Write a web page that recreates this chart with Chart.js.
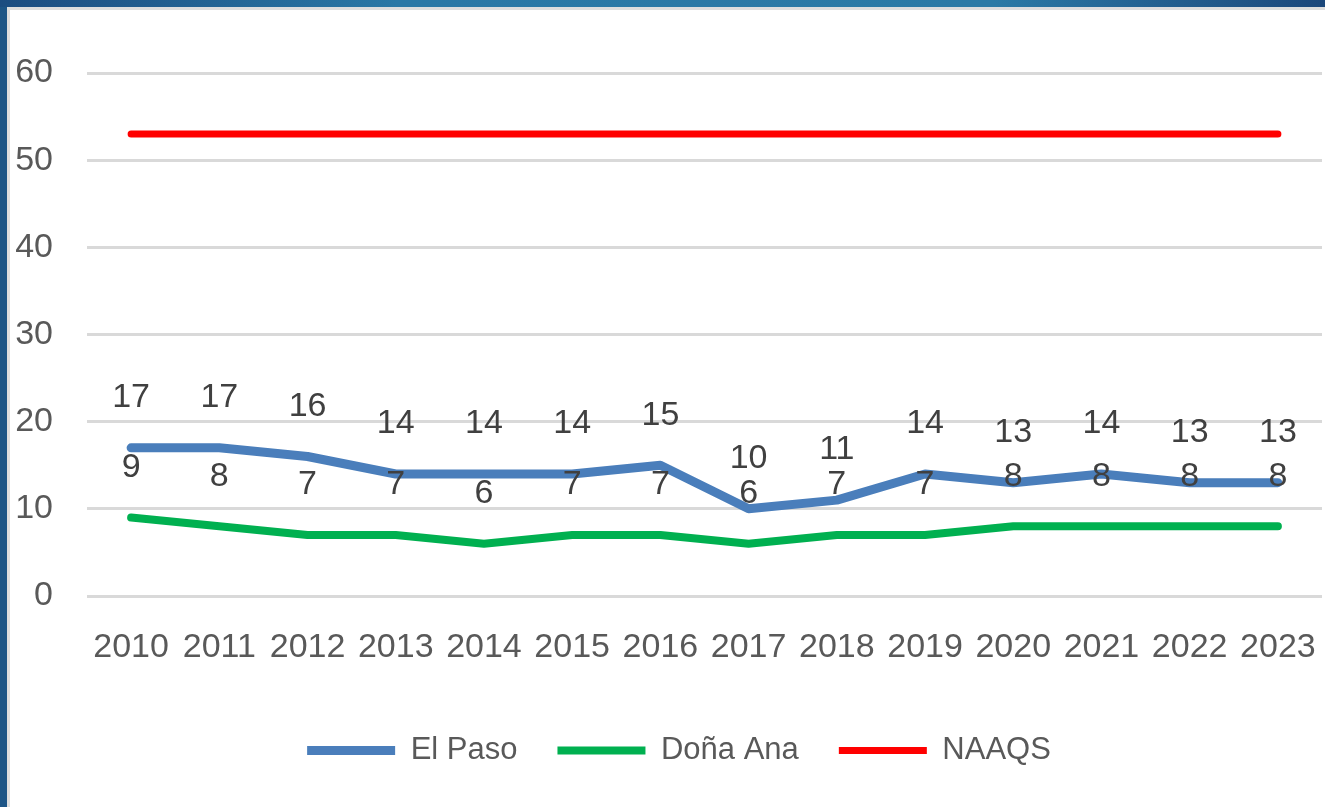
<!DOCTYPE html>
<html>
<head>
<meta charset="utf-8">
<script src="https://cdn.jsdelivr.net/npm/chart.js@4/dist/chart.umd.min.js"></script>
<style>
  html, body { margin: 0; padding: 0; }
  body { width: 1325px; height: 807px; overflow: hidden; position: relative;
    background: linear-gradient(90deg, #1b4c80 0%, #2a78a6 30%, #2b7aa6 75%, #1b477b 100%); }
  .panel { position: absolute; left: 7px; top: 7px; right: 0; bottom: 0;
    background: #fff; border-left: 3px solid #dedede; border-top: 3px solid #dedede; }
  .side { position: absolute; left: 0; top: 7px; width: 7px; bottom: 0; background: #1d5586; }
  #chart { position: absolute; left: 10px; top: 10px; }
</style>
</head>
<body>
<div class="side"></div>
<div class="panel"></div>
<canvas id="chart" width="1315" height="797"></canvas>
<script>
const years = ['2010', '2011', '2012', '2013', '2014', '2015', '2016', '2017', '2018', '2019', '2020', '2021', '2022', '2023']
const elPaso = [17, 17, 16, 14, 14, 14, 15, 10, 11, 14, 13, 14, 13, 13]
const donaAna = [9, 8, 7, 7, 6, 7, 7, 6, 7, 7, 8, 8, 8, 8]
const naaqs = [53, 53, 53, 53, 53, 53, 53, 53, 53, 53, 53, 53, 53, 53]
const yTicks = [0, 10, 20, 30, 40, 50, 60]

const FONT = '"Liberation Sans", Arial, sans-serif'

// value labels above the El Paso and Doña Ana lines
const valueLabels = {
  id: 'valueLabels',
  afterDatasetsDraw(chart) {
    const ctx = chart.ctx
    ctx.save()
    ctx.font = `34px ${FONT}`
    ctx.fillStyle = '#404040'
    ctx.textAlign = 'center'
    ctx.textBaseline = 'middle'
    chart.data.datasets.forEach((ds, i) => {
      if (!ds.showValues) return
      chart.getDatasetMeta(i).data.forEach((pt, j) => {
        ctx.fillText(String(ds.data[j]), pt.x, pt.y - 50)
      })
    })
    ctx.restore()
  },
}

// the legend sits a bit right of the canvas centre
const legendShift = {
  id: 'legendShift',
  afterLayout(chart) {
    chart.legend.left += 13
    chart.legend.right += 13
  },
}

const line = (label, data, color, width, showValues) => ({
  label,
  data,
  borderColor: color,
  backgroundColor: color,
  borderWidth: width,
  borderCapStyle: 'round',
  borderJoinStyle: 'round',
  pointRadius: 0,
  pointHoverRadius: 0,
  pointStyle: 'line',
  tension: 0,
  fill: false,
  showValues,
})

new Chart(document.getElementById('chart'), {
  type: 'line',
  data: {
    labels: years,
    datasets: [
      line('El Paso', elPaso, '#4a7ebb', 9, true),
      line('Doña Ana', donaAna, '#00b050', 8, true),
      line('NAAQS', naaqs, '#ff0000', 7, false),
    ],
  },
  options: {
    responsive: false,
    animation: false,
    devicePixelRatio: 1,
    layout: { padding: { left: 0, right: 3, top: 63, bottom: 31 } },
    plugins: {
      legend: {
        position: 'bottom',
        labels: {
          usePointStyle: true,
          pointStyleWidth: 88,
          padding: 40,
          color: '#595959',
          font: { family: FONT, size: 31 },
        },
      },
      tooltip: { enabled: false },
    },
    scales: {
      x: {
        offset: true,
        grid: { display: false },
        border: { display: false },
        ticks: {
          color: '#595959',
          padding: 23,
          maxRotation: 0,
          autoSkip: false,
          font: { family: FONT, size: 34 },
        },
        afterFit(scale) {
          scale.height = 99
          scale.paddingLeft = 0
          scale.paddingRight = 0
        },
      },
      y: {
        min: yTicks[0],
        max: yTicks[yTicks.length - 1],
        ticks: {
          stepSize: yTicks[1] - yTicks[0],
          color: '#595959',
          padding: 34,
          font: { family: FONT, size: 34 },
        },
        grid: { color: '#d9d9d9', lineWidth: 3, drawTicks: false },
        border: { display: false },
        afterFit(scale) { scale.width = 77 },
      },
    },
  },
  plugins: [valueLabels, legendShift],
})
</script>
</body>
</html>
